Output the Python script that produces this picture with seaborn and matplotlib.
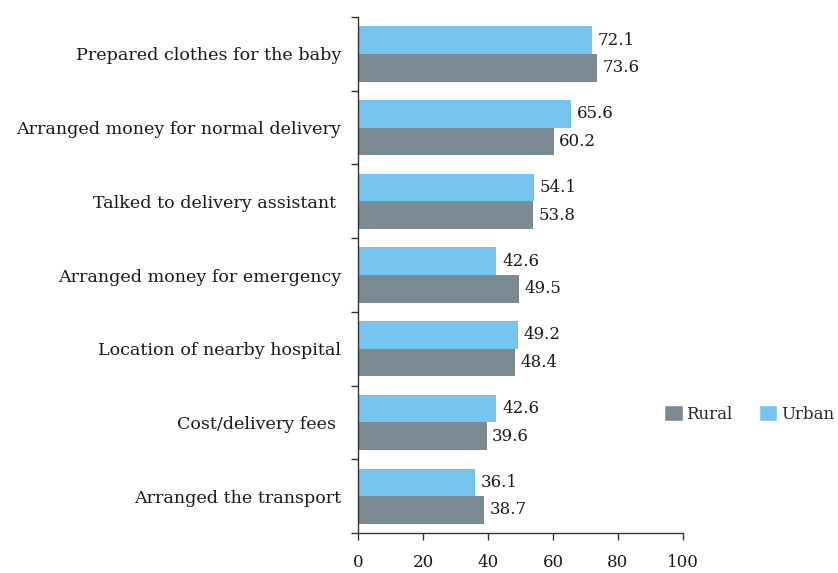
import matplotlib
matplotlib.use("Agg")
import matplotlib.pyplot as plt
from matplotlib.patches import Patch
import seaborn as sns
import pandas as pd

categories = [
    "Prepared clothes for the baby",
    "Arranged money for normal delivery",
    "Talked to delivery assistant ",
    "Arranged money for emergency",
    "Location of nearby hospital",
    "Cost/delivery fees ",
    "Arranged the transport",
]
urban = [72.1, 65.6, 54.1, 42.6, 49.2, 42.6, 36.1]
rural = [73.6, 60.2, 53.8, 49.5, 48.4, 39.6, 38.7]
x_ticks = [0, 20, 40, 60, 80, 100]

URBAN_COLOR = "#74C4EE"
RURAL_COLOR = "#7A8A93"
TEXT_COLOR = "#1a1a1a"
FS = 12

df = pd.DataFrame({
    "category": categories * 2,
    "value": urban + rural,
    "area": ["Urban"] * len(categories) + ["Rural"] * len(categories),
})

sns.set_style("white")
plt.rcParams["font.family"] = ["DejaVu Serif"]

fig = plt.figure(figsize=(8.38, 5.73), dpi=100)
ax = fig.add_axes([0.4272, 0.0698, 0.3878, 0.9005])

sns.barplot(
    data=df, y="category", x="value", hue="area",
    order=categories, hue_order=["Urban", "Rural"],
    palette={"Urban": URBAN_COLOR, "Rural": RURAL_COLOR},
    orient="h", width=0.75, saturation=1, legend=False, linewidth=0, ax=ax,
)

for container in ax.containers:
    ax.bar_label(container, fmt="%.1f", padding=4, fontsize=FS, color=TEXT_COLOR)

ax.set_xlim(0, 100)
ax.set_ylim(len(categories) - 0.5, -0.5)
ax.set_xticks(x_ticks)
ax.set_xticklabels([str(t) for t in x_ticks], fontsize=FS, color=TEXT_COLOR)
ax.tick_params(axis="x", bottom=True, direction="out", length=5, width=1,
               color="#333333", pad=10)

ax.set_yticks(range(len(categories)))
ax.set_yticklabels(categories, fontsize=12.6, color=TEXT_COLOR)
ax.tick_params(axis="y", which="major", left=False, length=0, pad=12)
ax.set_yticks([i - 0.5 for i in range(len(categories) + 1)], minor=True)
ax.tick_params(axis="y", which="minor", left=True, direction="out", length=5,
               width=1, color="#333333")

ax.set_xlabel("")
ax.set_ylabel("")
for side in ["top", "right"]:
    ax.spines[side].set_visible(False)
for side in ["left", "bottom"]:
    ax.spines[side].set_color("#333333")
    ax.spines[side].set_linewidth(1)

handles = [Patch(facecolor=RURAL_COLOR, label="Rural"),
           Patch(facecolor=URBAN_COLOR, label="Urban")]
fig.legend(handles=handles, loc="center left", bbox_to_anchor=(0.785, 0.278),
           ncol=2, frameon=False, fontsize=FS, handlelength=1.1, handleheight=1.1,
           handletextpad=0.2, columnspacing=1.6, borderaxespad=0)

fig.savefig("out.png", dpi=100)
